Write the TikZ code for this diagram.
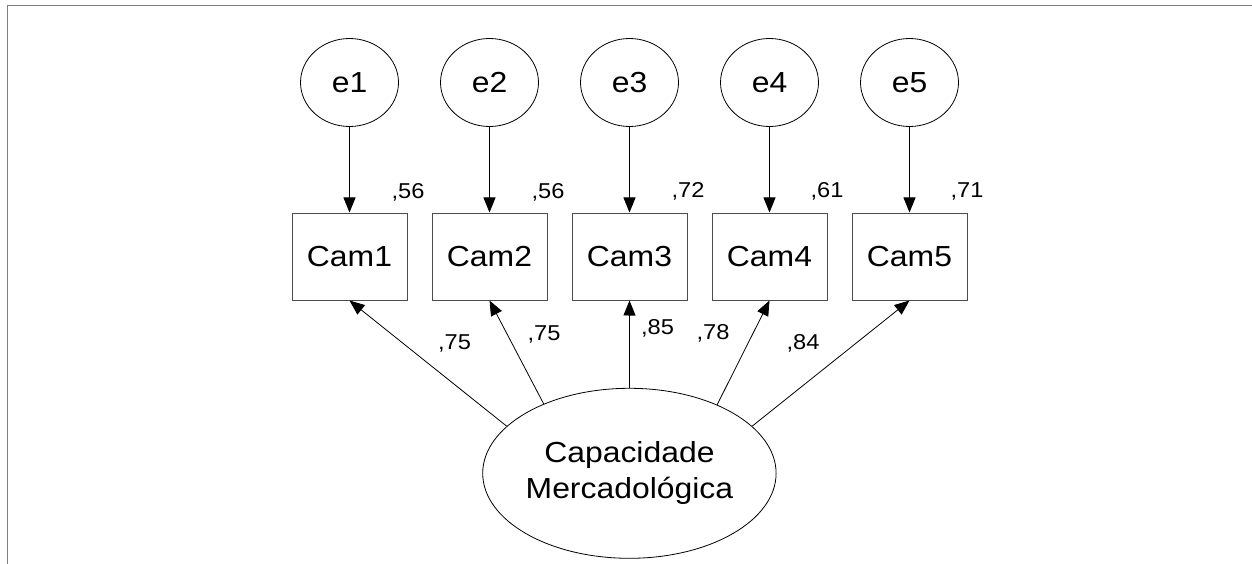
\documentclass[tikz,border=0pt]{standalone}
\usepackage{fontspec}
\setmainfont{Liberation Sans}[FakeStretch=1.1]
\usetikzlibrary{arrows.meta,shapes.geometric}
\begin{document}
\begin{tikzpicture}[x=1pt,y=-1pt,
  lat/.style={ellipse,draw=black,line width=0.8pt,inner sep=0pt},
  obs/.style={rectangle,draw=black!70,line width=1pt,minimum width=115pt,minimum height=87pt,inner sep=0pt,font=\fontsize{29}{33}\selectfont},
  err/.style={lat,minimum width=98pt,minimum height=88pt,font=\fontsize{29}{33}\selectfont},
  lbl/.style={font=\fontsize{21.5}{24}\selectfont,inner sep=0pt},
  arr/.style={line width=0.8pt,-{Triangle[length=15pt,width=12pt]}},
  frame/.style={draw=black!50,line width=1.5pt}]
\useasboundingbox (0,0) rectangle (1252,564);
\draw[frame] (1252,5.5) -- (7.5,5.5) -- (7.5,564);

% error terms
\foreach \i/\x in {1/349.5,2/489.5,3/629.5,4/769.5,5/909.5}{
  \node[err] (e\i) at (\x,82.5) {e\i};
  \node[obs] (c\i) at (\x,256.5) {Cam\i};
  \draw[arr] (e\i) -- (c\i);
}

% latent factor
\node[lat,minimum width=293pt,minimum height=170pt,align=center,
  font=\fontsize{29}{36}\selectfont] (F) at (629.4,473.3) {Capacidade\\Mercadológica};

\draw[arr] (F.159) -- (c1.south);
\draw[arr] (F.141.7) -- (c2.south);
\draw[arr] (F.90) -- (c3.south);
\draw[arr] (F.38.3) -- (c4.south);
\draw[arr] (F.21) -- (c5.south);

% squared multiple correlations
\node[lbl] (r1) at (408,192) {,56};
\node[lbl] (r2) at (548,192) {,56};
\node[lbl] (r3) at (688,191) {,72};
\node[lbl] (r4) at (827,191) {,61};
\node[lbl] (r5) at (967,191) {,71};

% loadings
\node[lbl] (l1) at (454.5,343) {,75};
\node[lbl] (l2) at (544,334) {,75};
\node[lbl] (l3) at (657.5,328) {,85};
\node[lbl] (l4) at (713,333) {,78};
\node[lbl] (l5) at (803,343) {,84};
\end{tikzpicture}
\end{document}
